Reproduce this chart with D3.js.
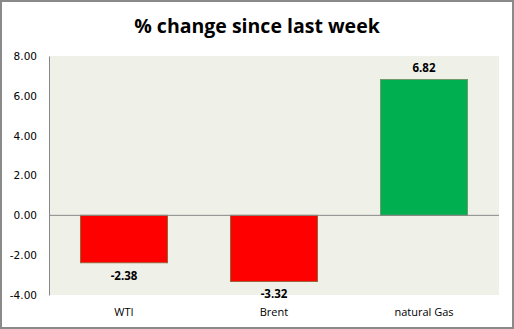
<!DOCTYPE html>
<html><head><meta charset="utf-8">
<script src="https://cdn.jsdelivr.net/npm/d3@7"></script>
<style>body{margin:0;background:#fff}svg{display:block}</style>
</head><body>
<script>
const categories = ["WTI", "Brent", "natural Gas"];
const values = [-2.38, -3.32, 6.82];
const tickValues = [-4, -2, 0, 2, 4, 6, 8];
const title = "% change since last week";

const W = 514, H = 329;
const m = {left: 49, right: 15, top: 56, bottom: 34};
const fmt = d => d3.format(".2f")(d).replace("\u2212", "-");
const svg = d3.select("body").append("svg").attr("width", W).attr("height", H);

svg.append("rect").attr("x", 1).attr("y", 1).attr("width", W - 2).attr("height", H - 2)
  .attr("fill", "#fff").attr("stroke", "#8a8a8a").attr("stroke-width", 2);

const x = d3.scaleBand().domain(categories).range([m.left, W - m.right]).paddingInner(0.42).paddingOuter(0.21);
const y = d3.scaleLinear().domain([-4, 8]).range([H - m.bottom, m.top]);

svg.append("rect").attr("x", m.left).attr("y", m.top).attr("width", W - m.left - m.right)
  .attr("height", H - m.top - m.bottom).attr("fill", "#eff1e9");

svg.append("text").attr("x", 257).attr("y", 33).attr("text-anchor", "middle")
  .attr("font-family", "Open Sans, sans-serif").attr("font-weight", "bold").attr("font-size", 19.5)
  .attr("fill", "#000").text(title);

const yAxis = svg.append("g").attr("transform", `translate(${m.left},0)`)
  .call(d3.axisLeft(y).tickValues(tickValues).tickFormat(fmt).tickSize(0).tickPadding(12));
yAxis.select(".domain").attr("stroke", "#868686");
yAxis.selectAll("text").attr("font-family", "Verdana, DejaVu Sans, sans-serif").attr("font-size", 10.5).attr("fill", "#000");

const colors = v => v < 0 ? "#ff0000" : "#00b050";
const strokes = v => v < 0 ? "#9a6238" : "#6e9a6e";

svg.selectAll("rect.bar").data(values).join("rect").attr("class", "bar")
  .attr("x", (d, i) => x(categories[i]))
  .attr("width", x.bandwidth())
  .attr("y", d => y(Math.max(0, d)))
  .attr("height", d => Math.abs(y(d) - y(0)))
  .attr("fill", colors).attr("stroke", strokes).attr("stroke-width", 1);

svg.append("line").attr("x1", m.left).attr("x2", W - m.right).attr("y1", y(0)).attr("y2", y(0))
  .attr("stroke", "#868686").attr("stroke-width", 1);

svg.selectAll("text.val").data(values).join("text").attr("class", "val")
  .attr("x", (d, i) => x(categories[i]) + x.bandwidth() / 2)
  .attr("y", d => d < 0 ? y(d) + 17 : y(d) - 8)
  .attr("text-anchor", "middle")
  .attr("font-family", "Open Sans, sans-serif").attr("font-weight", "bold").attr("font-size", 11.5)
  .attr("fill", "#000").text(fmt);

svg.selectAll("text.cat").data(categories).join("text").attr("class", "cat")
  .attr("x", d => x(d) + x.bandwidth() / 2).attr("y", 316)
  .attr("text-anchor", "middle")
  .attr("font-family", "Open Sans, sans-serif").attr("font-size", 11)
  .attr("fill", "#000").text(d => d);
</script>
</body></html>
